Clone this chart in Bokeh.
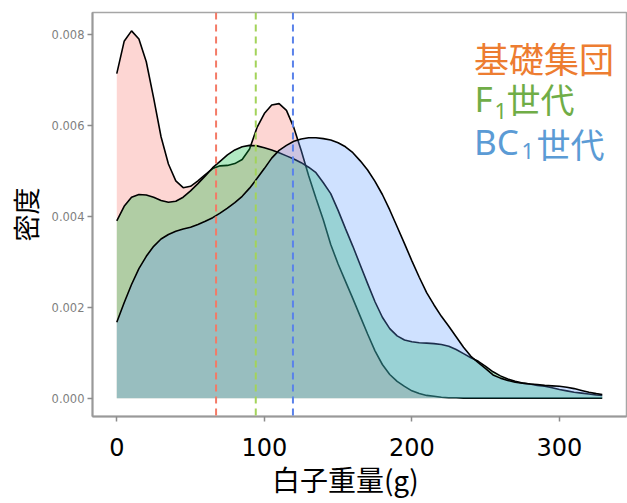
from bokeh.plotting import figure
from bokeh.models import Range1d, FixedTicker, PrintfTickFormatter, Span, Label
from bokeh.embed import file_html
from bokeh.resources import INLINE

# ---------------- data ----------------
x_grid = [0, 5, 10, 15, 20, 25, 30, 35, 40, 45, 50, 55, 60, 65, 70, 75, 80, 85, 90, 95,
          100, 105, 110, 115, 120, 125, 130, 135, 140, 145, 150, 155, 160, 165, 170, 175,
          180, 185, 190, 195, 200, 205, 210, 215, 220, 225, 230, 235, 240, 245, 250, 255,
          260, 265, 270, 275, 280, 285, 290, 295, 300, 305, 310, 315, 320, 325, 329]

dens_base = [0.00714, 0.00785, 0.00808, 0.00790, 0.00740, 0.00660, 0.00575, 0.00515, 0.00478, 0.00463,
             0.00466, 0.00478, 0.00492, 0.00505, 0.00511, 0.00512, 0.00516, 0.00525, 0.00548, 0.00595,
             0.00626, 0.00645, 0.00648, 0.00633, 0.00595, 0.00545, 0.00490, 0.00440, 0.00392, 0.00338,
             0.00295, 0.00257, 0.00219, 0.00180, 0.00141, 0.00104, 0.00074, 0.00052, 0.00037, 0.00026,
             0.00016, 0.00010, 0.00006, 0.00004, 0.00002, 0.00001, 0.00001, 0.0, 0.0, 0.0,
             0.0, 0.0, 0.0, 0.0, 0.0, 0.0, 0.0, 0.0, 0.0, 0.0,
             0.0, 0.0, 0.0, 0.0, 0.0, 0.0, 0.0]

dens_f1 = [0.00390, 0.00422, 0.00442, 0.00448, 0.00447, 0.00442, 0.00435, 0.00431, 0.00433, 0.00442,
           0.00456, 0.00472, 0.00489, 0.00507, 0.00521, 0.00535, 0.00546, 0.00553, 0.00556, 0.00555,
           0.00551, 0.00546, 0.00540, 0.00533, 0.00526, 0.00518, 0.00508, 0.00496, 0.00474, 0.00450,
           0.00413, 0.00373, 0.00334, 0.00293, 0.00252, 0.00212, 0.00178, 0.00153, 0.00137, 0.00128,
           0.00124, 0.00122, 0.00121, 0.00120, 0.00118, 0.00114, 0.00107, 0.00098, 0.00089, 0.00081,
           0.00070, 0.00058, 0.00049, 0.00042, 0.00037, 0.00033, 0.00031, 0.00028, 0.00026, 0.00023,
           0.00019, 0.00016, 0.00013, 0.00011, 0.00009, 0.00007, 0.00006]

dens_bc1 = [0.00167, 0.00210, 0.00250, 0.00285, 0.00312, 0.00334, 0.00350, 0.00360, 0.00367, 0.00372,
            0.00376, 0.00382, 0.00389, 0.00397, 0.00407, 0.00418, 0.00430, 0.00444, 0.00462, 0.00483,
            0.00505, 0.00528, 0.00545, 0.00556, 0.00565, 0.00570, 0.00573, 0.00573, 0.00571, 0.00568,
            0.00562, 0.00553, 0.00540, 0.00522, 0.00502, 0.00477, 0.00448, 0.00414, 0.00377, 0.00340,
            0.00302, 0.00266, 0.00232, 0.00205, 0.00180, 0.00158, 0.00135, 0.00112, 0.00092, 0.00078,
            0.00065, 0.00051, 0.00044, 0.00039, 0.00035, 0.00033, 0.00031, 0.00030, 0.00028, 0.00027,
            0.00026, 0.00024, 0.00021, 0.00017, 0.00013, 0.00010, 0.00008]

group_means = [67.3, 94.2, 119.4]
x_ticks = [0, 100, 200, 300]
y_ticks = [0.000, 0.002, 0.004, 0.006, 0.008]
x_title = "白子重量(g)"
y_title = "密度"

# ---------------- styling ----------------
fill_colors = ["#F8766D", "#00BA38", "#619CFF"]
mean_colors = ["#F47A66", "#A3D35A", "#5A82EA"]

xmin, xmax = min(x_grid), max(x_grid)
ymax = max(max(dens_base), max(dens_f1), max(dens_bc1))
xpad = 0.05 * (xmax - xmin)
ypad = 0.05 * ymax
x0, x1 = xmin - xpad, xmax + xpad
y0, y1 = -ypad, ymax + ypad

W, H = 627, 503
ML, MR, MT, MB = 92, 1, 12, 87

p = figure(width=W, height=H, x_range=Range1d(x0, x1), y_range=Range1d(y0, y1),
           output_backend="svg", toolbar_location=None, title=None,
           min_border_left=ML, min_border_right=MR, min_border_top=MT, min_border_bottom=MB)
p.background_fill_color = "white"
p.border_fill_color = "white"
p.outline_line_color = "#a6a6a6"
p.outline_line_width = 1.5
p.xgrid.visible = False
p.ygrid.visible = False

for dens, col in zip([dens_base, dens_f1, dens_bc1], fill_colors):
    p.varea(x=x_grid, y1=[0.0] * len(x_grid), y2=dens, fill_color=col, fill_alpha=0.3)
    p.line(x=x_grid, y=dens, line_color="black", line_width=1.6)

for m, c in zip(group_means, mean_colors):
    p.add_layout(Span(location=m, dimension="height", line_color=c, line_width=2,
                      line_dash="7 5"))

# axes
p.xaxis.ticker = FixedTicker(ticks=x_ticks)
p.xaxis.minor_tick_line_color = None
p.xaxis.major_tick_out = 5
p.xaxis.major_tick_in = 0
p.xaxis.major_tick_line_color = "#8c8c8c"
p.xaxis.major_tick_line_width = 1.5
p.xaxis.axis_line_color = "#999999"
p.xaxis.axis_line_width = 2
p.xaxis.major_label_text_font = "DejaVu Sans"
p.xaxis.major_label_text_font_size = "24px"
p.xaxis.major_label_text_color = "black"
p.xaxis.major_label_standoff = 16
p.xaxis.axis_label = x_title + "\u3000"
p.xaxis.axis_label_text_font = "Noto Sans CJK JP"
p.xaxis.axis_label_text_font_size = "28px"
p.xaxis.axis_label_text_font_style = "normal"
p.xaxis.axis_label_text_color = "black"
p.xaxis.axis_label_standoff = 0

p.yaxis.ticker = FixedTicker(ticks=y_ticks)
p.yaxis.formatter = PrintfTickFormatter(format="%.3f")
p.yaxis.minor_tick_line_color = None
p.yaxis.major_tick_out = 5
p.yaxis.major_tick_in = 0
p.yaxis.major_tick_line_color = "#8c8c8c"
p.yaxis.major_tick_line_width = 1.5
p.yaxis.axis_line_color = "#999999"
p.yaxis.axis_line_width = 2
p.yaxis.major_label_text_font = "DejaVu Sans"
p.yaxis.major_label_text_font_size = "11.5px"
p.yaxis.major_label_text_color = "#7f7f7f"
p.yaxis.major_label_standoff = 3
p.yaxis.axis_label = y_title
p.yaxis.axis_label_text_font = "Noto Sans CJK JP"
p.yaxis.axis_label_text_font_size = "27px"
p.yaxis.axis_label_text_font_style = "normal"
p.yaxis.axis_label_text_color = "black"
p.yaxis.axis_label_standoff = 4

# page-pixel -> data helpers (frame occupies page x 92..626, y 12..416)
FL, FT = ML, MT
FW, FH = W - ML - MR, H - MT - MB

def dx(px):
    return x0 + (px - FL) / FW * (x1 - x0)

def dy(py):
    return y1 - (py - FT) / FH * (y1 - y0)

# legend-like texts (vertically centred on the ink centre seen in the reference)
def put(px, py, txt, size, color, font="Noto Sans CJK JP"):
    p.add_layout(Label(x=dx(px), y=dy(py), text=txt, text_font=font, text_font_size=size,
                       text_color=color, text_align="left", text_baseline="middle"))

put(473.5, 57, "基礎集団", "35px", "#ED7D31")
put(474, 97.7, "F", "35px", "#70AD47", "Noto Sans")
put(494, 110, "1", "22px", "#70AD47", "Noto Sans")
put(506, 97.5, "世代", "34px", "#70AD47")
put(473.5, 140.8, "BC", "35px", "#5B9BD5", "Noto Sans")
put(521, 150.5, "1", "22px", "#5B9BD5", "Noto Sans")
put(536, 142.5, "世代", "34px", "#5B9BD5")

open("out.html", "w").write(file_html(p, INLINE))
